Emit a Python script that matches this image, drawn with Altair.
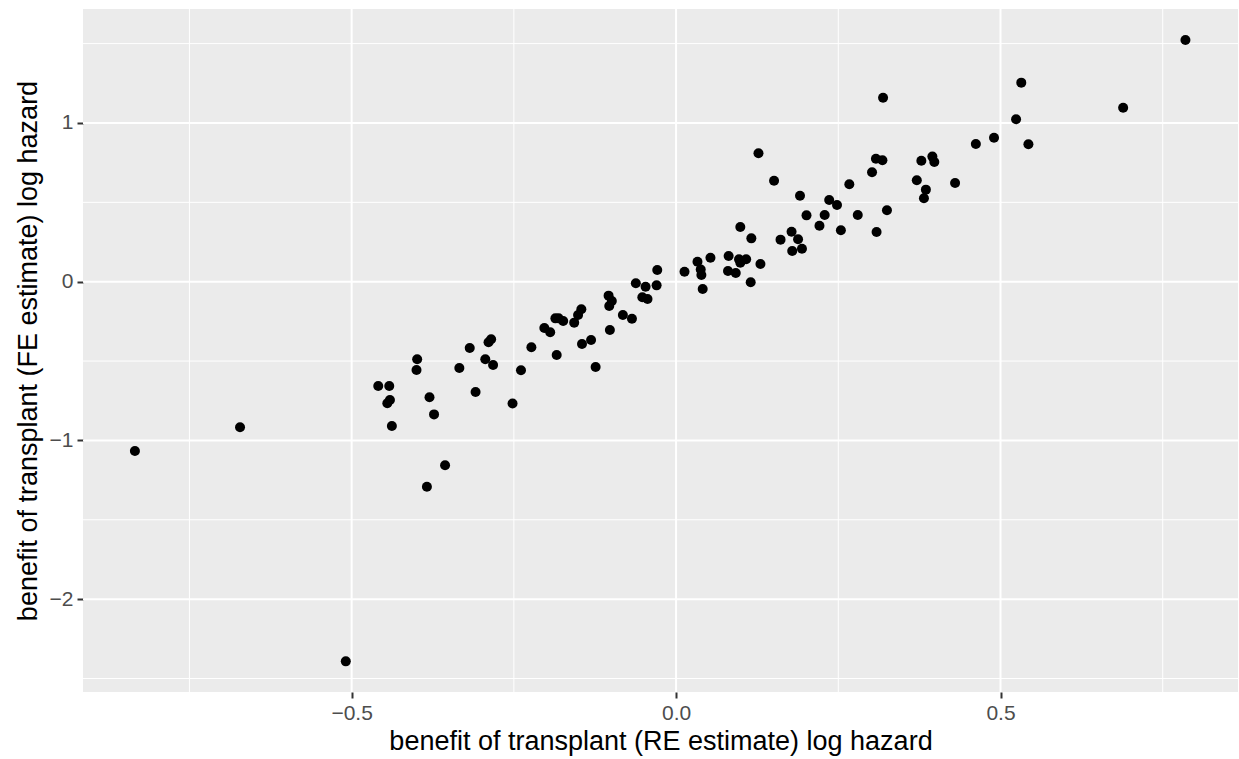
import altair as alt
import pandas as pd

# benefit of transplant, random-effects estimate (x) and fixed-effects estimate (y), log hazard
re_est = [-0.834, -0.672, -0.509, -0.459, -0.442, -0.441, -0.445, -0.438, -0.399, -0.400,
          -0.380, -0.373, -0.384, -0.356, -0.334, -0.318, -0.309, -0.294, -0.282, -0.289,
          -0.285, -0.252, -0.239, -0.223, -0.203, -0.194, -0.186, -0.181, -0.174, -0.184,
          -0.157, -0.151, -0.146, -0.145, -0.131, -0.124, -0.104, -0.099, -0.103, -0.102,
          -0.082, -0.068, -0.062, -0.047, -0.052, -0.044, -0.029, -0.030, 0.013, 0.033,
          0.038, 0.039, 0.041, 0.053, 0.081, 0.080, 0.092, 0.099, 0.097, 0.108,
          0.099, 0.115, 0.116, 0.130, 0.127, 0.151, 0.161, 0.178, 0.188, 0.179,
          0.194, 0.191, 0.201, 0.229, 0.221, 0.236, 0.248, 0.254, 0.267, 0.280,
          0.302, 0.308, 0.318, 0.319, 0.309, 0.325, 0.371, 0.378, 0.385, 0.382,
          0.395, 0.398, 0.430, 0.462, 0.490, 0.524, 0.532, 0.543, 0.689, 0.785]
fe_est = [-1.067, -0.917, -2.392, -0.657, -0.657, -0.745, -0.766, -0.909, -0.489, -0.556,
          -0.728, -0.836, -1.292, -1.157, -0.544, -0.418, -0.695, -0.489, -0.525, -0.382,
          -0.363, -0.767, -0.558, -0.413, -0.292, -0.319, -0.231, -0.231, -0.248, -0.462,
          -0.258, -0.210, -0.174, -0.393, -0.367, -0.537, -0.088, -0.122, -0.153, -0.304,
          -0.210, -0.233, -0.010, -0.032, -0.098, -0.109, 0.074, -0.023, 0.063, 0.126,
          0.077, 0.042, -0.046, 0.151, 0.162, 0.067, 0.055, 0.345, 0.141, 0.141,
          0.120, -0.004, 0.273, 0.112, 0.809, 0.636, 0.265, 0.315, 0.267, 0.193,
          0.208, 0.542, 0.418, 0.420, 0.353, 0.515, 0.483, 0.324, 0.614, 0.420,
          0.689, 0.775, 0.765, 1.159, 0.313, 0.450, 0.639, 0.762, 0.580, 0.526,
          0.788, 0.754, 0.622, 0.868, 0.907, 1.023, 1.254, 0.866, 1.096, 1.523]

x_major = [-0.5, 0.0, 0.5]
x_minor = [-0.75, -0.25, 0.25, 0.75]
y_major = [-2, -1, 0, 1]
y_minor = [-2.5, -1.5, -0.5, 0.5, 1.5]

x_domain = [-0.914, 0.866]
y_domain = [-2.585, 1.718]

FONT = "Liberation Sans"

pts = pd.DataFrame({"re": re_est, "fe": fe_est})
xs = alt.Scale(domain=x_domain, nice=False, zero=False)
ys = alt.Scale(domain=y_domain, nice=False, zero=False)

x_axis = alt.Axis(values=x_major, format=".1f", grid=False, domain=False,
                  tickColor="#333333", tickSize=6, tickWidth=2,
                  labelColor="#4D4D4D", labelFontSize=21, labelFont=FONT, labelPadding=4,
                  title="benefit of transplant (RE estimate) log hazard",
                  titleFont=FONT, titleFontSize=27, titleFontWeight="normal",
                  titleColor="black", titlePadding=5)
y_axis = alt.Axis(values=y_major, format="d", grid=False, domain=False,
                  tickColor="#333333", tickSize=6, tickWidth=2,
                  labelColor="#4D4D4D", labelFontSize=21, labelFont=FONT, labelPadding=4,
                  title="benefit of transplant (FE estimate) log hazard",
                  titleFont=FONT, titleFontSize=27, titleFontWeight="normal",
                  titleColor="black", titlePadding=7)

vminor = alt.Chart(pd.DataFrame({"v": x_minor})).mark_rule(color="white", strokeWidth=1).encode(
    x=alt.X("v:Q", scale=xs, axis=x_axis))
vmajor = alt.Chart(pd.DataFrame({"v": x_major})).mark_rule(color="white", strokeWidth=2).encode(
    x=alt.X("v:Q", scale=xs, axis=x_axis))
hminor = alt.Chart(pd.DataFrame({"h": y_minor})).mark_rule(color="white", strokeWidth=1).encode(
    y=alt.Y("h:Q", scale=ys, axis=y_axis))
hmajor = alt.Chart(pd.DataFrame({"h": y_major})).mark_rule(color="white", strokeWidth=2).encode(
    y=alt.Y("h:Q", scale=ys, axis=y_axis))

points = alt.Chart(pts).mark_circle(color="black", opacity=1, size=100).encode(
    x=alt.X("re:Q", scale=xs, axis=x_axis),
    y=alt.Y("fe:Q", scale=ys, axis=y_axis),
)

chart = alt.layer(hminor, vminor, hmajor, vmajor, points).properties(
    width=1155, height=683,
    autosize=alt.AutoSizeParams(type="none"),
    padding={"left": 83, "top": 9, "right": 1, "bottom": 67},
    background="white",
).configure_view(fill="#EBEBEB", stroke=None)

chart.save("out.html", embed_options={"renderer": "svg", "actions": False})
